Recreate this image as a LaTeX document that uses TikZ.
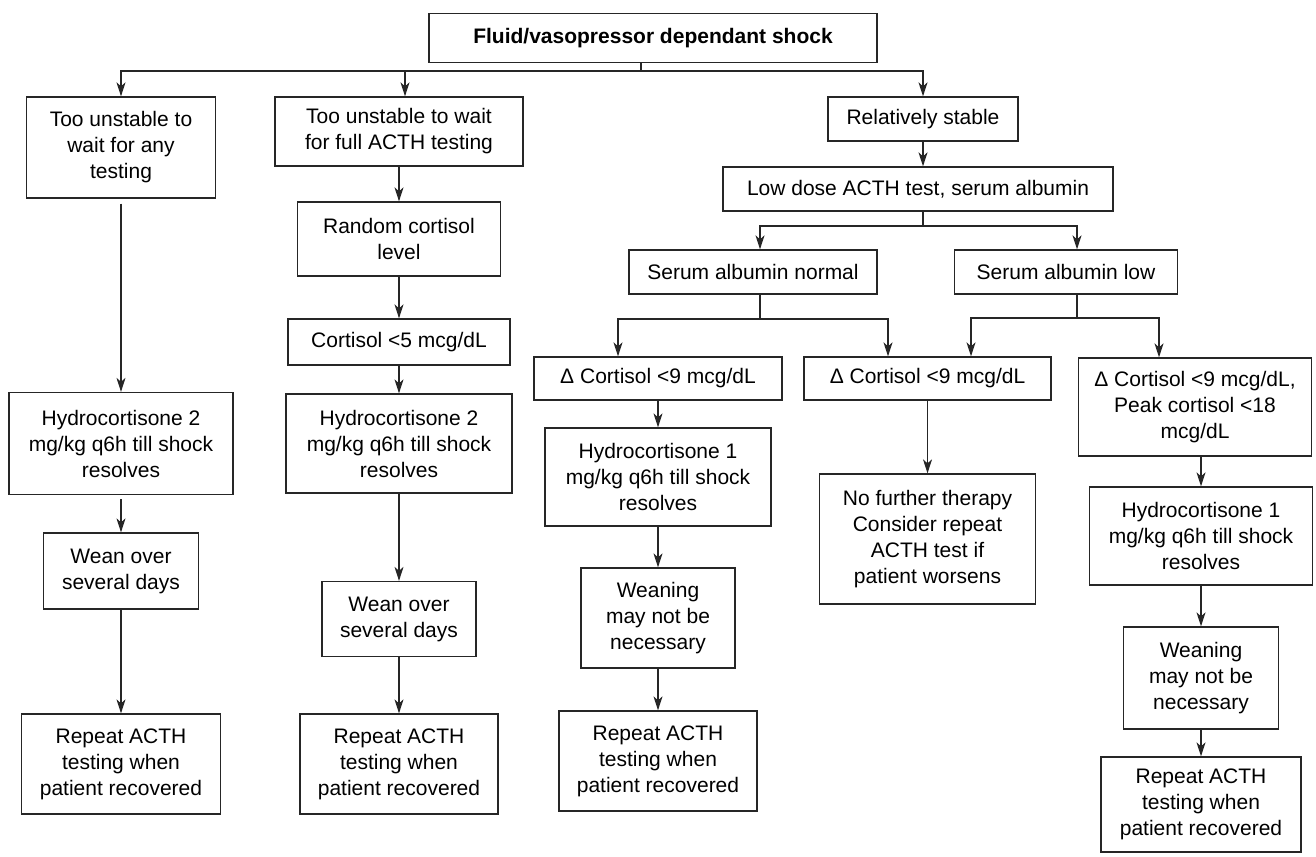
\documentclass[tikz,border=0pt]{standalone}
\usepackage{fontspec}
\setmainfont{Liberation Sans}
\usetikzlibrary{arrows.meta}

\begin{document}
\begin{tikzpicture}[x=1pt, y=-1pt,
        box/.style={draw=black!85, line width=1.3pt, align=center, inner sep=0pt,
            font=\fontsize{21pt}{26pt}\selectfont},
        dims/.style 2 args={minimum width=#1pt, minimum height=#2pt},
        wire/.style={draw=black!85, line width=1.3pt},
        link/.style={wire, -{Stealth[length=14pt,width=9pt,inset=4pt]}}]

        \useasboundingbox[fill=white] (0,0) rectangle (1316,856);

        \node[box, dims={448}{49}] (shock) at (653,38) {\textbf{Fluid/vasopressor dependant shock}};

        \node[box, dims={189}{101}] (a1) at (121,147.5) {Too unstable to\\wait for any\\testing};
        \node[box, dims={224}{102}] (a2) at (121,443.5) {Hydrocortisone 2\\mg/kg q6h till shock\\resolves};
        \node[box, dims={155}{76}] (a3) at (121,571) {Wean over\\several days};
        \node[box, dims={199}{100}] (a4) at (121,764) {Repeat ACTH\\testing when\\patient recovered};

        \node[box, dims={248}{69}] (b1) at (399,131.5) {Too unstable to wait\\for full ACTH testing};
        \node[box, dims={203}{74}] (b2) at (399,239) {Random cortisol\\level};
        \node[box, dims={222}{46}] (b3) at (399,342) {Cortisol <5 mcg/dL};
        \node[box, dims={226}{99}] (b4) at (399,443.5) {Hydrocortisone 2\\mg/kg q6h till shock\\resolves};
        \node[box, dims={154}{75}] (b5) at (399,619) {Wean over\\several days};
        \node[box, dims={198}{100}] (b6) at (399,764) {Repeat ACTH\\testing when\\patient recovered};

        \node[box, dims={190}{44}] (c1) at (923,119) {Relatively stable};
        \node[box, dims={390}{44}] (c2) at (918,189) {Low dose ACTH test, serum albumin};
        \node[box, dims={248}{44}] (c3) at (753,272) {Serum albumin normal};
        \node[box, dims={223}{44}] (c4) at (1066,272) {Serum albumin low};

        \node[box, dims={248}{43}] (d1) at (658,378.5) {Δ Cortisol <9 mcg/dL};
        \node[box, dims={226}{98}] (d2) at (658,477) {Hydrocortisone 1\\mg/kg q6h till shock\\resolves};
        \node[box, dims={154}{100}] (d3) at (658,618) {Weaning\\may not be\\necessary};
        \node[box, dims={198}{100}] (d4) at (658,761) {Repeat ACTH\\testing when\\patient recovered};

        \node[box, dims={247}{43}] (e1) at (927.5,378.5) {Δ Cortisol <9 mcg/dL};
        \node[box, dims={216}{130}] (e2) at (927.5,539) {No further therapy\\Consider repeat\\ACTH test if\\patient worsens};

        \node[box, dims={233}{98}] (f1) at (1195,407) {Δ Cortisol <9 mcg/dL,\\Peak cortisol <18\\mcg/dL};
        \node[box, dims={223}{98}] (f2) at (1201,536) {Hydrocortisone 1\\mg/kg q6h till shock\\resolves};
        \node[box, dims={155}{102}] (f3) at (1201,678) {Weaning\\may not be\\necessary};
        \node[box, dims={200}{95}] (f4) at (1201,804.5) {Repeat ACTH\\testing when\\patient recovered};

        \coordinate (jtop) at (641,71);
        \coordinate (dropb) at (405,71);
        \draw[wire] (shock.south -| jtop) -- (jtop);
        \draw[link] (jtop) -| (a1.north);
        \draw[link] (jtop) -| (b1.north -| dropb);
        \draw[link] (jtop) -| (c1.north);

        \draw[link, shorten <=5pt] (a1.south) -- (a2.north);
        \draw[link, shorten <=4pt] (a2.south) -- (a3.north);
        \draw[link] (a3.south) -- (a4.north);

        \draw[link] (b1.south) -- (b2.north);
        \draw[link] (b2.south) -- (b3.north);
        \draw[link] (b3.south) -- (b4.north);
        \draw[link] (b4.south) -- (b5.north);
        \draw[link] (b5.south) -- (b6.north);

        \draw[link] (c1.south) -- (c2.north -| c1.south);

        \coordinate (jc2) at (923,226);
        \coordinate (jc3) at (760,319);
        \coordinate (jc4) at (1077,318);
        \draw[wire] (c2.south -| jc2) -- (jc2);
        \draw[link] (jc2) -| (c3.north -| jc3);
        \draw[link] (jc2) -| (c4.north -| jc4);

        \coordinate (dropd) at (618,319);
        \coordinate (drope) at (888,319);
        \draw[wire] (c3.south -| jc3) -- (jc3);
        \draw[link] (jc3) -| (d1.north -| dropd);
        \draw[link] (jc3) -| (e1.north -| drope);

        \coordinate (drope2) at (971,318);
        \coordinate (dropf) at (1159,318);
        \draw[wire] (c4.south -| jc4) -- (jc4);
        \draw[link] (jc4) -| (e1.north -| drope2);
        \draw[link] (jc4) -| (f1.north -| dropf);

        \draw[link] (d1.south) -- (d2.north);
        \draw[link] (d2.south) -- (d3.north);
        \draw[link] (d3.south) -- (d4.north);

        \draw[link] (e1.south) -- (e2.north);

        \draw[link] (f2.north |- f1.south) -- (f2.north);
        \draw[link] (f2.south) -- (f3.north);
        \draw[link] (f3.south) -- (f4.north);

    \end{tikzpicture}
\end{document}
